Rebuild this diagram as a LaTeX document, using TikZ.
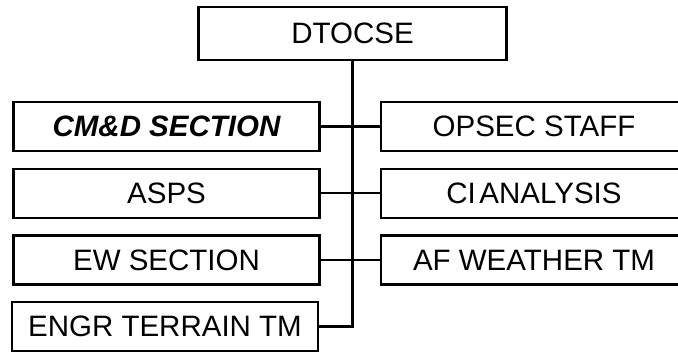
\documentclass[tikz,border=0pt]{standalone}
\usepackage{fontspec}
\setmainfont{Liberation Sans}
\begin{document}
\begin{tikzpicture}[x=1pt,y=-1pt,
  orgbox/.style={draw=black, line width=2.2pt, rectangle, inner sep=0pt,
    minimum width=306pt, minimum height=49pt,
    font=\fontsize{29.5}{32}\selectfont},
  link/.style={draw=black, line width=2.2pt}]
  \useasboundingbox[fill=white] (0,0) rectangle (678,352);

  % head of the organisation
  \node[orgbox, minimum width=308pt, minimum height=53pt] (top) at (352.5,33.5) {DTOCSE};

  % left column
  \node[orgbox] (cmd)  at (166.5,126.5) {\bfseries\itshape CM\&D SECTION};
  \node[orgbox] (asps) at (166.5,193.2) {ASPS};
  \node[orgbox] (ew)   at (166.5,260)   {EW SECTION};
  \node[orgbox] (engr) at (165,326.5)   {ENGR TERRAIN TM};

  % right column (runs past the right margin)
  \node[orgbox] (opsec) at (534,126.5) {OPSEC STAFF};
  \node[orgbox] (ci)    at (534,193.2) {CI\hspace{0.12em}ANALYSIS};
  \node[orgbox] (af)    at (534,260)   {AF WEATHER TM};

  % connectors
  \draw[link, line join=miter] (top.south) |- (engr.east);
  \draw[link] (cmd.east)  -- (opsec.west);
  \draw[link] (asps.east) -- (ci.west);
  \draw[link] (ew.east)   -- (af.west);
\end{tikzpicture}
\end{document}
